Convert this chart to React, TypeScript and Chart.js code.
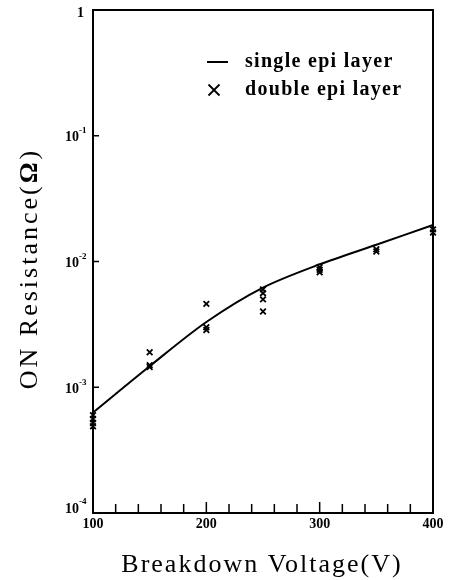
import React, { useEffect, useRef } from "react";
import { Chart, registerables } from "chart.js";

Chart.register(...registerables);

// ---- data ----
const voltages = [100, 150, 200, 250, 300, 350, 400];
const singleEpiLayer = [6.3e-4, 1.47e-3, 3.3e-3, 6.2e-3, 9.5e-3, 1.36e-2, 1.95e-2];

const doubleEpiVoltage = [100, 100, 100, 100, 150, 150, 150, 200, 200, 200, 250, 250, 250, 250, 300, 300, 300, 350, 350, 400, 400];
const doubleEpiLayer = [6.0e-4, 5.6e-4, 5.2e-4, 4.9e-4, 1.9e-3, 1.5e-3, 1.45e-3, 4.6e-3, 3.0e-3, 2.85e-3, 6.0e-3, 5.6e-3, 5.0e-3, 4.0e-3, 9.0e-3, 8.6e-3, 8.2e-3, 1.25e-2, 1.2e-2, 1.8e-2, 1.7e-2];

const xTickLabels = [100, 200, 300, 400];
const xMinorTicks = [120, 140, 160, 180, 200, 220, 240, 260, 280, 300, 320, 340, 360, 380];
const yTickValues = [1e-4, 1e-3, 1e-2, 1e-1, 1];
const yTickBases = ["10", "10", "10", "10", "1"];
const yTickExps = ["-4", "-3", "-2", "-1", ""];

const seriesNames = ["single epi layer", "double epi layer"];
const xTitle = "Breakdown Voltage(V)";
const yTitleParts = ["ON Resistance(", "Ω", ")"];

const SERIF = '"Liberation Serif", "Times New Roman", serif';

const decorPlugin = {
  id: "decor",
  afterDraw(chart: any) {
    const ctx = chart.ctx as CanvasRenderingContext2D;
    const { left, right, top, bottom } = chart.chartArea;
    const xs = chart.scales.x;
    const ys = chart.scales.y;
    ctx.save();
    ctx.strokeStyle = "#000";
    ctx.fillStyle = "#000";

    // frame
    ctx.lineWidth = 2;
    ctx.strokeRect(left, top, right - left, bottom - top);

    // bottom inward ticks
    ctx.lineWidth = 1.5;
    xMinorTicks.forEach((v) => {
      const px = xs.getPixelForValue(v);
      const len = v % 100 === 0 ? 11 : 9;
      ctx.beginPath();
      ctx.moveTo(px, bottom);
      ctx.lineTo(px, bottom - len);
      ctx.stroke();
    });
    // left inward ticks
    yTickValues.forEach((v) => {
      const py = ys.getPixelForValue(v);
      if (py <= top + 1 || py >= bottom - 1) return;
      ctx.beginPath();
      ctx.moveTo(left, py);
      ctx.lineTo(left + 6, py);
      ctx.stroke();
    });

    // x tick labels
    ctx.font = `bold 14px ${SERIF}`;
    ctx.textAlign = "center";
    ctx.textBaseline = "middle";
    xTickLabels.forEach((v) => {
      const px = xs.getPixelForValue(v);
      ctx.fillText(String(v), px, bottom + 11);
    });

    // y tick labels with superscripts
    yTickValues.forEach((v, i) => {
      let py = ys.getPixelForValue(v);
      py = Math.max(top + 2, Math.min(bottom - 6, py));
      const exp = yTickExps[i];
      const base = yTickBases[i];
      if (exp) {
        ctx.font = `bold 9px ${SERIF}`;
        ctx.textAlign = "left";
        ctx.textBaseline = "middle";
        ctx.fillText(exp, 79, py - 5);
        ctx.font = `bold 14px ${SERIF}`;
        ctx.textAlign = "right";
        ctx.fillText(base, 79, py + 2);
      } else {
        ctx.font = `bold 14px ${SERIF}`;
        ctx.textAlign = "right";
        ctx.textBaseline = "middle";
        ctx.fillText(base, 84, py + 1);
      }
    });

    // x title
    ctx.font = `26px ${SERIF}`;
    (ctx as any).letterSpacing = "2px";
    ctx.textAlign = "left";
    ctx.textBaseline = "middle";
    const xw = ctx.measureText(xTitle).width - 2;
    ctx.fillText(xTitle, 261 - xw / 2, 565);

    // y title (rotated)
    ctx.save();
    ctx.translate(30, 270);
    ctx.rotate(-Math.PI / 2);
    (ctx as any).letterSpacing = "3px";
    ctx.textBaseline = "middle";
    ctx.textAlign = "left";
    const fonts = [`26px ${SERIF}`, `bold 26px ${SERIF}`, `26px ${SERIF}`];
    let total = 0;
    const widths = yTitleParts.map((p, i) => {
      ctx.font = fonts[i];
      const w = ctx.measureText(p).width;
      total += w;
      return w;
    });
    let cx = -(total - 3) / 2;
    yTitleParts.forEach((p, i) => {
      ctx.font = fonts[i];
      ctx.fillText(p, cx, 0);
      cx += widths[i];
    });
    ctx.restore();

    // legend
    (ctx as any).letterSpacing = "1.3px";
    ctx.font = `bold 20px ${SERIF}`;
    ctx.textAlign = "left";
    ctx.textBaseline = "middle";
    ctx.lineWidth = 2;
    ctx.beginPath();
    ctx.moveTo(207, 62);
    ctx.lineTo(228, 62);
    ctx.stroke();
    ctx.fillText(seriesNames[0], 245, 62);
    ctx.lineWidth = 1.8;
    const mx = 214, my = 90, r = 5.5;
    ctx.beginPath();
    ctx.moveTo(mx - r, my - r);
    ctx.lineTo(mx + r, my + r);
    ctx.moveTo(mx - r, my + r);
    ctx.lineTo(mx + r, my - r);
    ctx.stroke();
    ctx.fillText(seriesNames[1], 245, 90);

    ctx.restore();
  },
};

export default function App() {
  const ref = useRef<HTMLCanvasElement | null>(null);

  useEffect(() => {
    if (!ref.current) return;
    const chart = new Chart(ref.current, {
      type: "line",
      data: {
        datasets: [
          {
            label: seriesNames[0],
            data: voltages.map((v, i) => ({ x: v, y: singleEpiLayer[i] })),
            borderColor: "#000",
            borderWidth: 2,
            pointRadius: 0,
            tension: 0.3,
            fill: false,
          },
          {
            type: "scatter" as any,
            label: seriesNames[1],
            data: doubleEpiVoltage.map((v, i) => ({ x: v, y: doubleEpiLayer[i] })),
            borderColor: "#000",
            backgroundColor: "#000",
            pointStyle: "crossRot",
            pointRadius: 4,
            pointBorderWidth: 1.8,
            showLine: false,
          },
        ],
      },
      options: {
        responsive: false,
        animation: false,
        clip: false as any,
        layout: { padding: { left: 0, right: 17, top: 10, bottom: 0 } },
        plugins: { legend: { display: false }, tooltip: { enabled: false } },
        scales: {
          x: {
            type: "linear",
            min: 100,
            max: 400,
            ticks: { display: false },
            grid: { display: false },
            border: { display: false },
            afterFit: (s: any) => {
              s.height = 67;
            },
          },
          y: {
            type: "logarithmic",
            min: 1e-4,
            max: 1,
            ticks: { display: false },
            grid: { display: false },
            border: { display: false },
            afterFit: (s: any) => {
              s.width = 93;
            },
          },
        },
      },
      plugins: [decorPlugin],
    });
    return () => chart.destroy();
  }, []);

  return (
    <div style={{ position: "fixed", left: 0, top: 0, width: 450, height: 580, background: "#fff" }}>
      <canvas ref={ref} width={450} height={580} style={{ width: 450, height: 580, display: "block" }} />
    </div>
  );
}
